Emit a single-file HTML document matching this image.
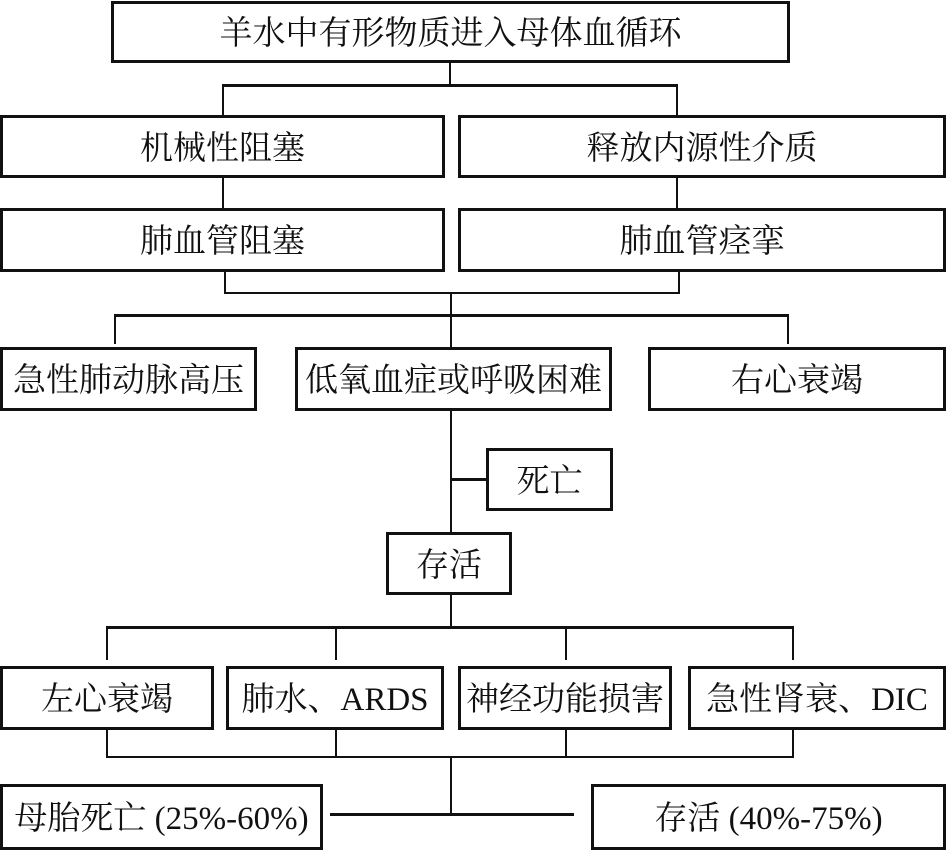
<!DOCTYPE html>
<html><head><meta charset="utf-8"><style>
body{margin:0;width:946px;height:848px;background:#fff;position:relative;overflow:hidden;font-family:"Liberation Serif","Noto Serif CJK SC",serif;}
.b{position:absolute;box-sizing:border-box;border:3px solid #111;background:#fff;z-index:2;display:flex;align-items:center;justify-content:center;font-size:33px;color:#111;white-space:nowrap;padding-bottom:3px;}
.l{position:absolute;background:#111;z-index:1;}
</style></head><body>
<div class="b" style="left:111px;top:1px;width:679px;height:62px">羊水中有形物质进入母体血循环</div>
<div class="l" style="left:449px;top:62px;width:2px;height:24px"></div>
<div class="l" style="left:222px;top:84px;width:456px;height:3px"></div>
<div class="l" style="left:222px;top:84px;width:2px;height:31px"></div>
<div class="l" style="left:676px;top:84px;width:2px;height:31px"></div>
<div class="b" style="left:0;top:115px;width:445px;height:63px">机械性阻塞</div>
<div class="b" style="left:458px;top:115px;width:488px;height:63px">释放内源性介质</div>
<div class="l" style="left:222px;top:177px;width:2px;height:32px"></div>
<div class="l" style="left:676px;top:177px;width:2px;height:32px"></div>
<div class="b" style="left:0;top:208px;width:445px;height:64px">肺血管阻塞</div>
<div class="b" style="left:458px;top:208px;width:488px;height:64px">肺血管痉挛</div>
<div class="l" style="left:224px;top:271px;width:2px;height:23px"></div>
<div class="l" style="left:678px;top:271px;width:2px;height:23px"></div>
<div class="l" style="left:224px;top:292px;width:456px;height:2px"></div>
<div class="l" style="left:450px;top:292px;width:2px;height:242px"></div>
<div class="l" style="left:114px;top:314px;width:675px;height:3px"></div>
<div class="l" style="left:114px;top:314px;width:2px;height:30px"></div>
<div class="l" style="left:787px;top:314px;width:2px;height:30px"></div>
<div class="b" style="left:0;top:347px;width:257px;height:64px">急性肺动脉高压</div>
<div class="b" style="left:295px;top:347px;width:317px;height:64px">低氧血症或呼吸困难</div>
<div class="b" style="left:648px;top:347px;width:298px;height:64px">右心衰竭</div>
<div class="l" style="left:450px;top:478px;width:36px;height:3px"></div>
<div class="b" style="left:486px;top:448px;width:127px;height:63px">死亡</div>
<div class="b" style="left:386px;top:532px;width:126px;height:63px">存活</div>
<div class="l" style="left:450px;top:594px;width:2px;height:34px"></div>
<div class="l" style="left:106px;top:626px;width:688px;height:3px"></div>
<div class="l" style="left:106px;top:626px;width:2px;height:34px"></div>
<div class="l" style="left:335px;top:626px;width:2px;height:34px"></div>
<div class="l" style="left:565px;top:626px;width:2px;height:34px"></div>
<div class="l" style="left:792px;top:626px;width:2px;height:34px"></div>
<div class="b" style="left:0;top:666px;width:214px;height:64px">左心衰竭</div>
<div class="b" style="left:226px;top:666px;width:218px;height:64px">肺水、ARDS</div>
<div class="b" style="left:458px;top:666px;width:214px;height:64px">神经功能损害</div>
<div class="b" style="left:688px;top:666px;width:258px;height:64px">急性肾衰、DIC</div>
<div class="l" style="left:106px;top:729px;width:2px;height:29px"></div>
<div class="l" style="left:335px;top:729px;width:2px;height:29px"></div>
<div class="l" style="left:565px;top:729px;width:2px;height:29px"></div>
<div class="l" style="left:792px;top:729px;width:2px;height:29px"></div>
<div class="l" style="left:106px;top:756px;width:688px;height:2px"></div>
<div class="l" style="left:450px;top:756px;width:2px;height:60px"></div>
<div class="l" style="left:330px;top:813px;width:244px;height:3px"></div>
<div class="b" style="left:0;top:784px;width:323px;height:66px">母胎死亡 (25%-60%)</div>
<div class="b" style="left:591px;top:784px;width:355px;height:66px">存活 (40%-75%)</div>
</body></html>
